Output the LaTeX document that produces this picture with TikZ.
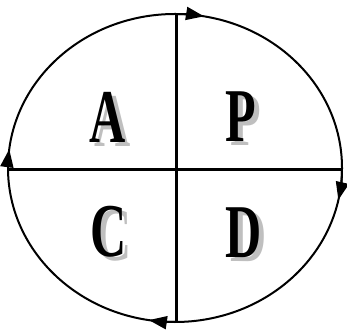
\documentclass[tikz,border=0pt]{standalone}
\usepackage{fontspec}
\setmainfont{Liberation Serif}
\usetikzlibrary{arrows.meta}
\newcommand{\shadowed}[1]{\makebox[0pt][l]{\hspace{7pt}\raisebox{-4pt}{\textcolor{black!25}{#1}}}#1}
\begin{document}
\begin{tikzpicture}[x=1pt,y=1pt,
  ring/.style={line width=2pt},
  axis/.style={line width=3pt},
  cw/.style={line width=2pt,-{Triangle[length=18pt,width=13pt]}},
  letter/.style={inner sep=0pt,anchor=base,font=\fontsize{76}{76}\selectfont\bfseries,xscale=0.66}]
\useasboundingbox (0,0) rectangle (347,334);
\coordinate (O) at (175,166);
\draw[ring] (O) ellipse[x radius=167, y radius=154];
\draw[axis] (176,320) coordinate (Top) -- (176,12) coordinate (Bot);
\draw[axis] (8,164) coordinate (Lf) -- (342,164) coordinate (Rt);
% clockwise arrowheads
\draw[cw] ([shift={(90:167 and 154)}]O) arc[start angle=90, end angle=80, x radius=167, y radius=154];
\draw[cw] ([shift={(0:167 and 154)}]O) arc[start angle=0, end angle=-12, x radius=167, y radius=154];
\draw[cw] ([shift={(270:167 and 154)}]O) arc[start angle=270, end angle=261, x radius=167, y radius=154];
\draw[cw] ([shift={(180:167 and 154)}]O) arc[start angle=180, end angle=173, x radius=167, y radius=154];
% letters with grey shadow
\node[letter] (A) at (108,191) {\shadowed{A}};
\node[letter] (P) at (241,192) {\shadowed{P}};
\node[letter] (C) at (109,77) {\shadowed{C}};
\node[letter] (D) at (244,76) {\shadowed{D}};
\end{tikzpicture}
\end{document}
